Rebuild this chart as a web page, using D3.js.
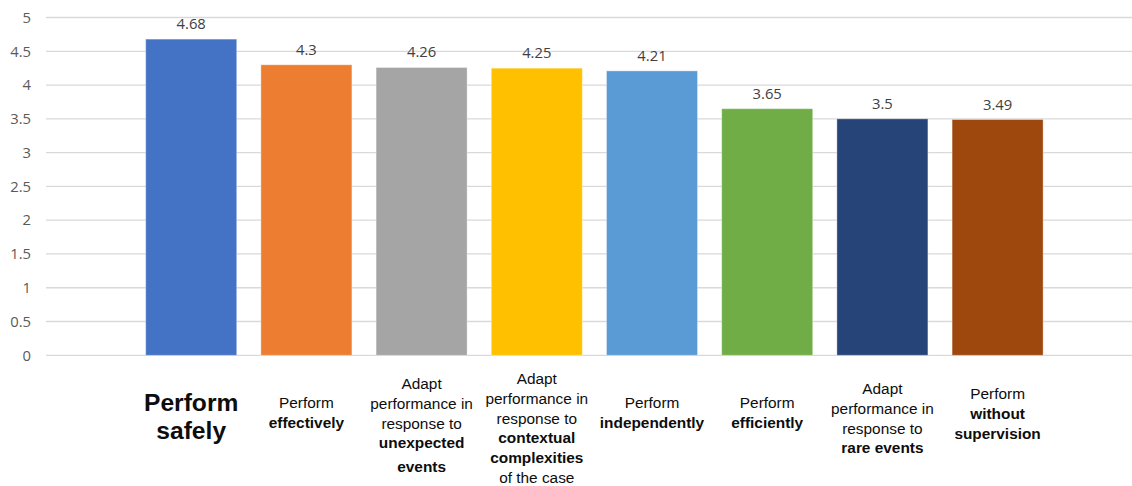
<!DOCTYPE html>
<html>
<head>
<meta charset="utf-8">
<script src="https://cdn.jsdelivr.net/npm/d3@7/dist/d3.min.js"></script>
<style>
  html, body { margin: 0; padding: 0; background: #fff; }
  svg { display: block; }
</style>
</head>
<body>
<svg id="chart" width="1132" height="486"></svg>
<script>
// Mean rating for each entrustment dimension
const categories = ["safely", "effectively", "unexpected", "contextual", "independently", "efficiently", "rare", "supervision"];
const values = [4.68, 4.3, 4.26, 4.25, 4.21, 3.65, 3.5, 3.49];
const colors = ["#4472C4", "#ED7D31", "#A5A5A5", "#FFC000", "#5B9BD5", "#70AD47", "#264478", "#9E480E"];
const yTicks = [0, 0.5, 1, 1.5, 2, 2.5, 3, 3.5, 4, 4.5, 5];
// Axis labels: one entry per line, words wrapped in ** are bold
const labelLines = [
  ["**Perform**", "**safely**"],
  ["Perform", "**effectively**"],
  ["Adapt", "performance in", "response to", "**unexpected**", "**events**"],
  ["Adapt", "performance in", "response to", "**contextual**", "**complexities**", "of the case"],
  ["Perform", "**independently**"],
  ["Perform", "**efficiently**"],
  ["Adapt", "performance in", "response to", "**rare events**"],
  ["Perform", "**without**", "**supervision**"]
];

const svg = d3.select("#chart");
const gridLeft = 46, gridRight = 1132;

const x = d3.scaleBand()
  .domain(categories)
  .range([133.6, 1055.2])
  .paddingInner(0.21)
  .paddingOuter(0.105);

const y = d3.scaleLinear().domain([0, 5]).range([355.3, 17.5]);

// Horizontal gridlines
svg.append("g")
  .selectAll("line")
  .data(yTicks)
  .join("line")
  .attr("x1", gridLeft).attr("x2", gridRight)
  .attr("y1", d => y(d)).attr("y2", d => y(d))
  .attr("stroke", "#d9d9d9")
  .attr("stroke-width", 1.3);

// Value axis labels
const yAxis = svg.append("g")
  .attr("transform", `translate(31,0)`)
  .call(d3.axisLeft(y).tickValues(yTicks).tickSize(0).tickPadding(0).tickFormat(d3.format("~g")));
yAxis.select(".domain").remove();
yAxis.selectAll("text")
  .attr("font-family", "'Open Sans', sans-serif")
  .attr("font-size", 14.8)
  .attr("fill", "#595959");

// Bars
svg.append("g")
  .selectAll("rect")
  .data(values)
  .join("rect")
  .attr("x", (d, i) => x(categories[i]))
  .attr("width", x.bandwidth())
  .attr("y", d => y(d))
  .attr("height", d => y(0) - y(d))
  .attr("fill", (d, i) => colors[i])
  .attr("stroke", "#ffffff")
  .attr("stroke-opacity", 0.35)
  .attr("stroke-width", 1);

// Value labels above bars
svg.append("g")
  .selectAll("text")
  .data(values)
  .join("text")
  .attr("x", (d, i) => x(categories[i]) + x.bandwidth() / 2)
  .attr("y", d => y(d) - 10)
  .attr("text-anchor", "middle")
  .attr("font-family", "'Open Sans', sans-serif")
  .attr("font-size", 14.8)
  .attr("fill", "#404040")
  .text(d => d);

// Category labels with mixed weights
const catG = svg.append("g")
  .attr("font-family", "'Liberation Sans', Arial, sans-serif")
  .attr("fill", "#0d0d0d");

labelLines.forEach((lines, i) => {
  const cx = x(categories[i]) + x.bandwidth() / 2;
  const big = i === 0;
  const lh = big ? 28.5 : 19.8;
  const n = lines.length;
  const firstY = big ? 401.7 : (n === 2 ? 402 : 393 - (n - 3) * 5);
  const t = catG.append("text")
    .attr("text-anchor", "middle")
    .attr("font-size", big ? 24.6 : 15.4)
    .attr("dominant-baseline", "central");
  lines.forEach((line, j) => {
    let yy = firstY + j * lh;
    if (i === 2 && j === 4) yy += 4;
    const parts = line.split(/(\*\*[^*]+\*\*)/).filter(s => s.length);
    parts.forEach((p, k) => {
      const bold = p.startsWith("**");
      const ts = t.append("tspan")
        .attr("font-weight", bold ? "bold" : "normal")
        .text(bold ? p.slice(2, -2) : p);
      if (k === 0) ts.attr("x", cx).attr("y", yy);
    });
  });
});
</script>
</body>
</html>
